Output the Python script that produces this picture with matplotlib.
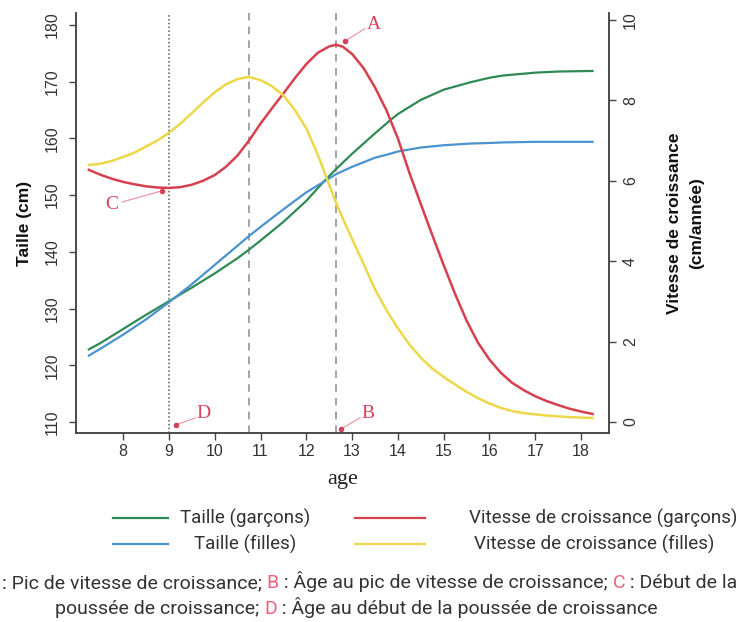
import matplotlib
matplotlib.use("Agg")
import matplotlib.pyplot as plt
from matplotlib import font_manager

# ---------------- data ----------------
ages_h = [7.25, 7.5, 8, 8.5, 9, 9.5, 10, 10.5, 10.75, 11, 11.5, 12, 12.37, 12.65,
          13, 13.5, 13.83, 14, 14.5, 15, 15.58, 16, 16.3, 17, 17.5, 18.25]
taille_garcons = [122.8, 123.9, 126.4, 128.9, 131.3, 133.7, 136.2, 138.9, 140.4, 142.0,
                  145.3, 149.0, 152.3, 154.6, 157.3, 160.9, 163.2, 164.3, 166.8, 168.6,
                  169.9, 170.7, 171.1, 171.6, 171.8, 171.9]
taille_filles = [121.7, 122.9, 125.4, 128.1, 131.1, 134.3, 137.7, 141.1, 142.8, 144.4,
                 147.5, 150.5, 152.3, 153.7, 155.0, 156.6, 157.3, 157.7, 158.4, 158.8,
                 159.1, 159.2, 159.3, 159.4, 159.4, 159.4]

ages_v = [7.25, 7.5, 7.75, 8.0, 8.25, 8.5, 8.75, 9.0, 9.25, 9.5, 9.75, 10.0, 10.25,
          10.5, 10.75, 11.0, 11.25, 11.5, 11.75, 12.0, 12.25, 12.5, 12.65, 12.8, 13.0,
          13.25, 13.5, 13.75, 14.0, 14.25, 14.5, 14.75, 15.0, 15.25, 15.5, 15.75, 16.0,
          16.25, 16.5, 16.75, 17.0, 17.25, 17.5, 17.75, 18.0, 18.25]
vitesse_garcons = [6.27, 6.15, 6.05, 5.97, 5.91, 5.86, 5.83, 5.82, 5.84, 5.9, 6.0, 6.14,
                   6.35, 6.63, 7.0, 7.42, 7.8, 8.17, 8.55, 8.9, 9.18, 9.34, 9.38, 9.33,
                   9.15, 8.8, 8.32, 7.75, 7.05, 6.2, 5.42, 4.65, 3.9, 3.18, 2.52, 1.97,
                   1.55, 1.22, 0.97, 0.79, 0.64, 0.52, 0.42, 0.33, 0.26, 0.2]
vitesse_filles = [6.39, 6.42, 6.49, 6.59, 6.7, 6.85, 7.0, 7.19, 7.42, 7.68, 7.95, 8.2,
                  8.4, 8.53, 8.58, 8.5, 8.35, 8.12, 7.76, 7.3, 6.65, 5.9, 5.45, 5.05,
                  4.55, 3.93, 3.3, 2.78, 2.33, 1.93, 1.6, 1.33, 1.12, 0.93, 0.75, 0.59,
                  0.46, 0.35, 0.27, 0.22, 0.19, 0.16, 0.14, 0.12, 0.11, 0.1]

vlines_dotted = [9.0]
vlines_dashed = [10.75, 12.65]

# annotation letters: label, point (age, v), line end (age, v), text (age, v)
annot_labels = ["A", "B", "C", "D"]
annot_pts = [(12.85, 9.48), (12.76, -0.17), (8.85, 5.75), (9.16, -0.07)]
annot_end = [(13.28, 9.78), (13.17, 0.1), (7.98, 5.47), (9.57, 0.1)]
annot_txt = [(13.47, 9.88), (13.35, 0.22), (7.76, 5.4), (9.75, 0.22)]

xticks = [8, 9, 10, 11, 12, 13, 14, 15, 16, 17, 18]
yticks_left = [110, 120, 130, 140, 150, 160, 170, 180]
yticks_right = [0, 2, 4, 6, 8, 10]

legend_labels = ["Taille (garçons)", "Taille (filles)",
                 "Vitesse de croissance (garçons)", "Vitesse de croissance (filles)"]

# ---------------- style ----------------
C_GREEN = "#2f8a55"
C_BLUE = "#4a93cf"
C_RED = "#d6404f"
C_YEL = "#ecd84a"
C_ANN = "#d9405a"

avail = {f.name for f in font_manager.fontManager.ttflist}
NARROW = ["Liberation Sans Narrow"] if "Liberation Sans Narrow" in avail else ["Roboto", "DejaVu Sans"]
SANS = ["Liberation Sans", "DejaVu Sans"]
SERIF = ["Liberation Serif", "DejaVu Serif"]

plt.rcParams["font.family"] = SANS

W, H = 750, 622
fig = plt.figure(figsize=(W / 100, H / 100), dpi=100)

ax_l, ax_r, ax_b, ax_t = 76, 609, 433, 13
ax = fig.add_axes([ax_l / W, 1 - ax_b / H, (ax_r - ax_l) / W, (ax_b - ax_t) / H])
ax2 = ax.twinx()

ax.set_xlim(6.97, 18.61)
ax.set_ylim(108.06, 182.12)
ax2.set_ylim(-0.274, 10.17)

ax.plot(ages_h, taille_garcons, color=C_GREEN, lw=1.6, zorder=3)
ax.plot(ages_h, taille_filles, color=C_BLUE, lw=1.6, zorder=3)
ax2.plot(ages_v, vitesse_garcons, color=C_RED, lw=1.8, zorder=3)
ax2.plot(ages_v, vitesse_filles, color=C_YEL, lw=1.8, zorder=3)

for xv in vlines_dotted:
    ax.axvline(xv, color="#555a66", lw=1.1, ls=(0, (1, 1.5)), zorder=2)
for xv in vlines_dashed:
    ax.axvline(xv, color="#8a8a8a", lw=1.1, ls=(0, (5, 4)), zorder=2)

for lab, (px, py), (ex, ey), (tx, ty) in zip(annot_labels, annot_pts, annot_end, annot_txt):
    ax2.plot([px, ex], [py, ey], color="#e89aa8", lw=0.9, zorder=4)
    ax2.plot([px], [py], "o", color=C_ANN, ms=3, zorder=5)
    ax2.text(tx, ty, lab, color=C_ANN, fontsize=14, family=SERIF,
             ha="center", va="center", zorder=6)

for a in (ax, ax2):
    a.spines["top"].set_visible(False)
    for s in ("left", "right", "bottom"):
        a.spines[s].set_color("#444444")
        a.spines[s].set_linewidth(1.1)

ax.set_xticks(xticks)
ax.set_yticks(yticks_left)
ax2.set_yticks(yticks_right)
ax.tick_params(axis="x", direction="out", length=5, width=1, color="#444444",
               labelsize=11.5, labelcolor="#333333", pad=3)
ax.tick_params(axis="y", direction="out", length=5, width=1, color="#444444",
               labelsize=11.5, labelcolor="#333333", pad=7)
ax2.tick_params(axis="y", direction="out", length=5, width=1, color="#444444",
                labelsize=11.5, labelcolor="#333333", pad=5)
for t in ax.get_yticklabels():
    t.set_rotation(90)
    t.set_va("center")
for t in ax2.get_yticklabels():
    t.set_rotation(90)
    t.set_va("center")

ax.set_xlabel("age", family=SERIF, fontsize=16, labelpad=8, color="#222222")
ax.set_ylabel("Taille (cm)", fontsize=12.5, fontweight="bold", labelpad=9, color="#111111")
ax2.set_ylabel("Vitesse de croissance\n(cm/année)", fontsize=12.5, fontweight="bold",
               labelpad=21, color="#111111", rotation=90, linespacing=1.6)

# ---------------- legend ----------------
def fx(px):
    return px / W


def fy(py):
    return 1 - py / H


leg_colors = [C_GREEN, C_BLUE, C_RED, C_YEL]
leg_line_x = [(113, 168), (113, 168), (355, 425), (355, 425)]
leg_y = [518, 544, 518, 544]
leg_text_x = [245, 245, 603, 594]
for lab, col, (x0, x1), yy, tx in zip(legend_labels, leg_colors, leg_line_x, leg_y, leg_text_x):
    fig.add_artist(plt.Line2D([fx(x0), fx(x1)], [fy(yy), fy(yy)], color=col, lw=1.6,
                              transform=fig.transFigure))
    fig.text(fx(tx), fy(yy), lab, ha="center", va="center", fontsize=13.5,
             family=NARROW, color="#333333")

# ---------------- caption ----------------
C_TXT = "#333333"
C_LET = "#f0607a"
line1 = [(": Pic de vitesse de croissance; ", C_TXT), ("B", C_LET),
         (" : Âge au pic de vitesse de croissance; ", C_TXT), ("C", C_LET),
         (" : Début de la", C_TXT)]
line2 = [("poussée de croissance; ", C_TXT), ("D", C_LET),
         (" : Âge au début de la poussée de croissance", C_TXT)]


def place_chain(pieces, y0, size, x0=None, center=None):
    renderer = fig.canvas.get_renderer()
    texts = []
    for s, c in pieces:
        t = fig.text(0, fy(y0), s, color=c, fontsize=size, family=NARROW,
                     ha="left", va="baseline")
        texts.append(t)
    widths = [t.get_window_extent(renderer=renderer).width for t in texts]
    x = x0 if x0 is not None else center - sum(widths) / 2
    for t, w in zip(texts, widths):
        t.set_x(fx(x))
        x += w


fig.canvas.draw()
place_chain(line1, 588, 14, x0=2)
place_chain(line2, 614, 14, center=356)

fig.savefig("out.png", dpi=100)
